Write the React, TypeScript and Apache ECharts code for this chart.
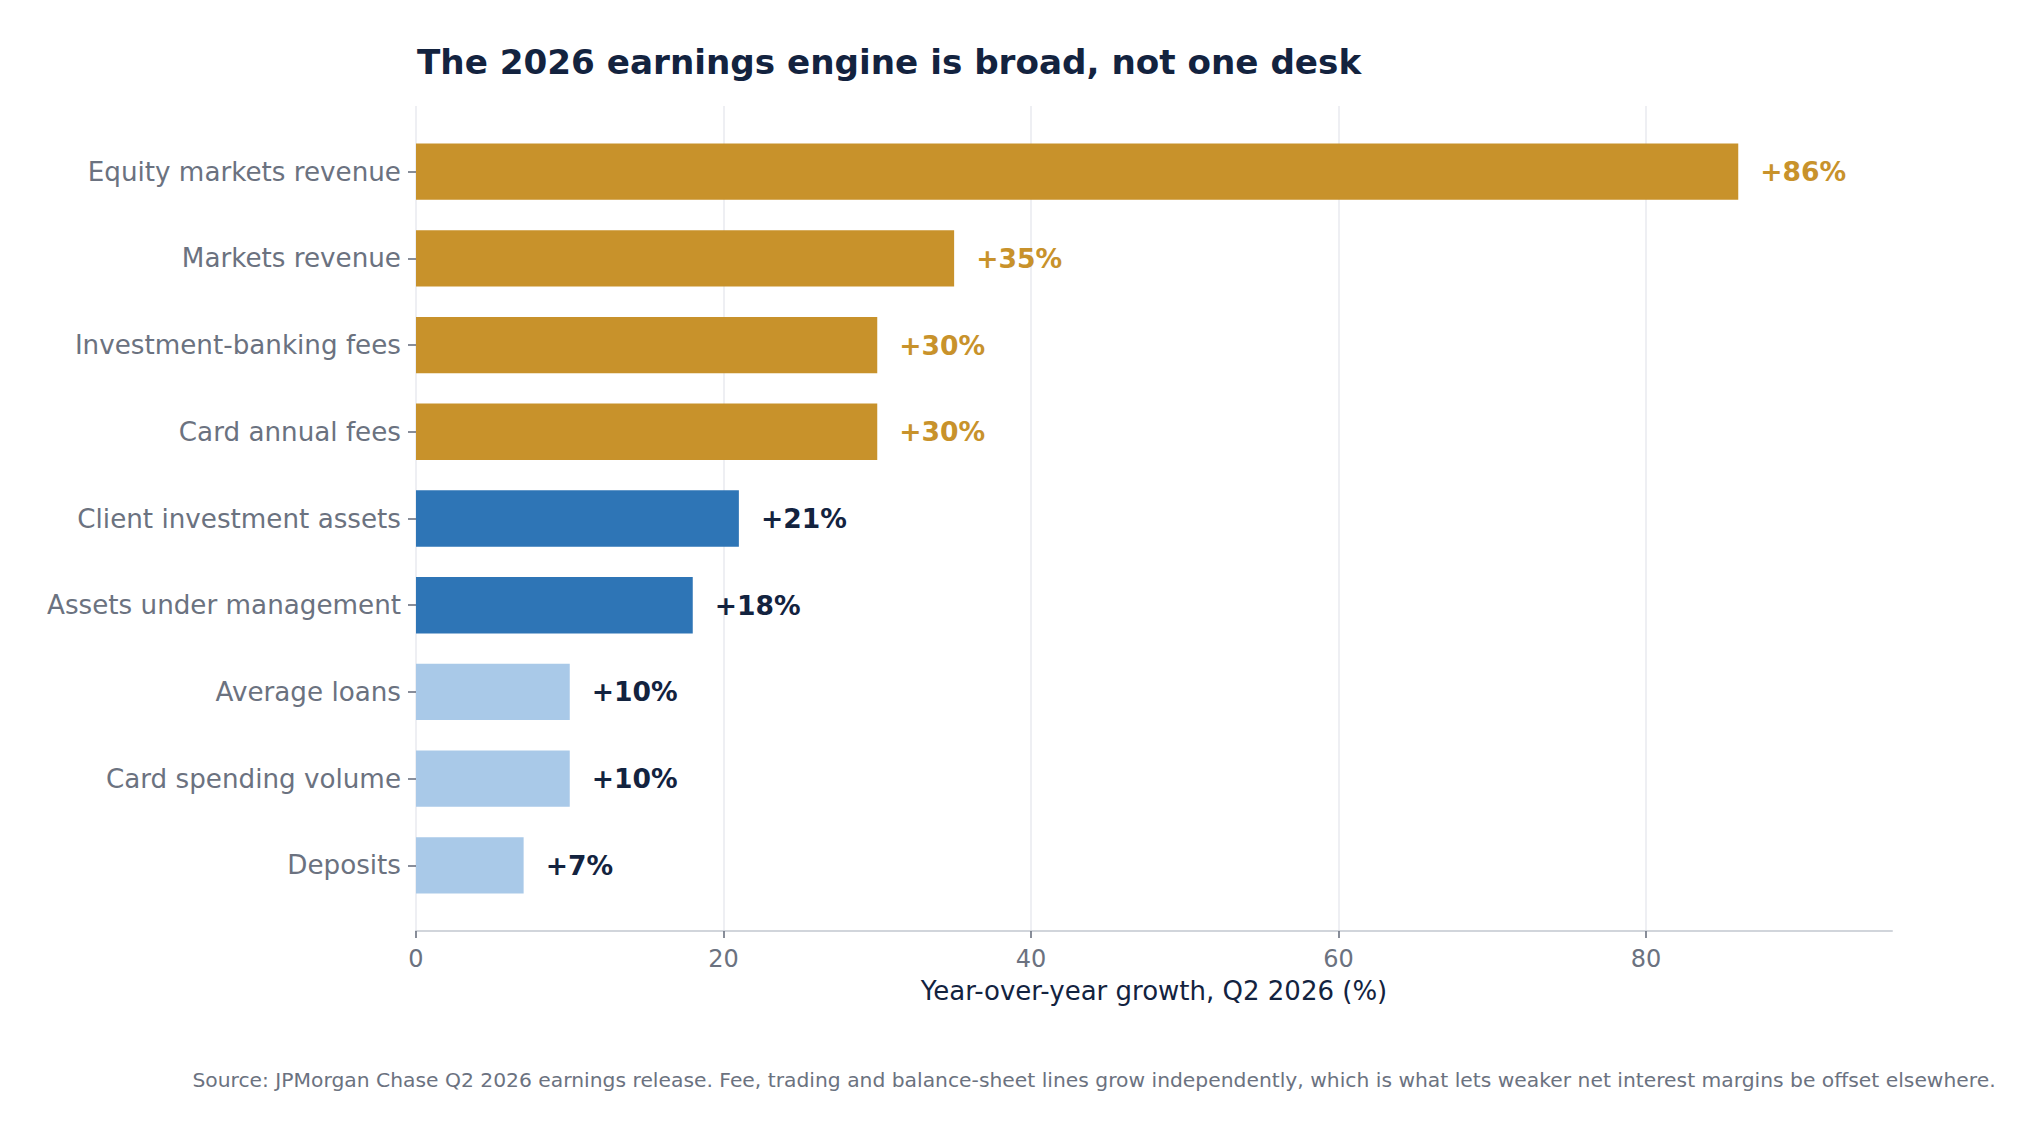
import React, { useEffect, useRef } from "react";
import * as echarts from "echarts";

// ---- data ----
const categories = [
  "Equity markets revenue",
  "Markets revenue",
  "Investment-banking fees",
  "Card annual fees",
  "Client investment assets",
  "Assets under management",
  "Average loans",
  "Card spending volume",
  "Deposits",
];
const growthPct = [86, 35, 30, 30, 21, 18, 10, 10, 7];
const groupOf = [
  "fees",
  "fees",
  "fees",
  "fees",
  "wealth",
  "wealth",
  "balance",
  "balance",
  "balance",
];
const xTickStep = 20;
const xTickMax = 80;
const xAxisMax = 96;

const TITLE = "The 2026 earnings engine is broad, not one desk";
const X_TITLE = "Year-over-year growth, Q2 2026 (%)";
const SOURCE =
  "Source: JPMorgan Chase Q2 2026 earnings release. Fee, trading and balance-sheet lines grow independently, which is what lets weaker net interest margins be offset elsewhere.";

// ---- styles ----
const FONT = "DejaVu Sans";
const NAVY = "#13233F";
const GRAY = "#6B7280";
const barColor: Record<string, string> = {
  fees: "#C8922B",
  wealth: "#2E75B6",
  balance: "#A9C9E8",
};
const labelColor: Record<string, string> = {
  fees: "#C8922B",
  wealth: NAVY,
  balance: NAVY,
};

const W = 2041;
const H = 1138;
const PLOT_LEFT = 416;
const PLOT_W = 1476;
const PLOT_TOP = 106;
const PLOT_H = 825;
// category spacing: 9 bars of height .65 plus 5% margins
const SPAN = categories.length - 1 + 0.65;
const UNIT = PLOT_H / (SPAN * 1.1);
const BAR_TOP = PLOT_TOP + (0.325 + SPAN * 0.05) * UNIT - UNIT / 2;

export default function App() {
  const ref = useRef<HTMLDivElement>(null);
  useEffect(() => {
    document.body.style.margin = "0";
    document.body.style.overflow = "hidden";
    if (!ref.current) return;
    const chart = echarts.init(ref.current, null, { renderer: "svg" });
    const gridA = {
      left: PLOT_LEFT,
      top: PLOT_TOP,
      width: (PLOT_W * xTickMax) / xAxisMax,
      height: PLOT_H,
    };
    const gridB = { left: PLOT_LEFT, top: PLOT_TOP, width: PLOT_W, height: PLOT_H };
    const gridC = {
      left: PLOT_LEFT,
      top: BAR_TOP,
      width: PLOT_W,
      height: UNIT * categories.length,
    };
    chart.setOption({
      animation: false,
      backgroundColor: "#FFFFFF",
      textStyle: { fontFamily: FONT },
      grid: [gridA, gridB, gridC],
      xAxis: [
        {
          gridIndex: 0,
          type: "value",
          min: 0,
          max: xTickMax,
          interval: xTickStep,
          axisLine: { show: false },
          axisTick: {
            show: true,
            length: 7,
            lineStyle: { color: GRAY, width: 1.6 },
          },
          splitLine: { show: true, lineStyle: { color: "#E8EAEF", width: 1.5 } },
          axisLabel: {
            show: true,
            margin: 16,
            fontFamily: FONT,
            fontSize: 24,
            color: GRAY,
          },
        },
        {
          gridIndex: 1,
          type: "value",
          min: 0,
          max: xAxisMax,
          axisLine: { show: true, lineStyle: { color: "#D1D5DB", width: 2 } },
          axisTick: { show: false },
          axisLabel: { show: false },
          splitLine: { show: false },
        },
        {
          gridIndex: 2,
          type: "value",
          min: 0,
          max: xAxisMax,
          show: false,
        },
      ],
      yAxis: [
        { gridIndex: 0, type: "value", show: false, min: 0, max: 1 },
        { gridIndex: 1, type: "value", show: false, min: 0, max: 1 },
        {
          gridIndex: 2,
          type: "category",
          inverse: true,
          data: categories,
          axisLine: { show: false },
          axisTick: {
            show: true,
            alignWithLabel: true,
            length: 8,
            lineStyle: { color: GRAY, width: 1.6 },
          },
          axisLabel: {
            margin: 15,
            fontFamily: FONT,
            fontSize: 26.2,
            color: GRAY,
          },
          splitLine: { show: false },
        },
      ],
      series: [
        {
          type: "bar",
          xAxisIndex: 2,
          yAxisIndex: 2,
          barWidth: 0.65 * UNIT,
          z: 3,
          data: growthPct.map((v, i) => ({
            value: v,
            itemStyle: { color: barColor[groupOf[i]] },
            label: {
              show: true,
              position: "right",
              distance: 22,
              formatter: () => `+${v}%`,
              fontFamily: FONT,
              fontSize: 26.6,
              fontWeight: "bold",
              color: labelColor[groupOf[i]],
            },
          })),
        },
      ],
      graphic: [
        {
          type: "text",
          left: 417,
          top: 62 - 17,
          style: {
            text: TITLE,
            fontFamily: FONT,
            fontSize: 34.2,
            fontWeight: "bold",
            fill: NAVY,
          },
        },
        {
          type: "text",
          x: PLOT_LEFT + PLOT_W / 2,
          y: 991,
          style: {
            text: X_TITLE,
            fontFamily: FONT,
            fontSize: 26,
            fill: NAVY,
            align: "center",
            verticalAlign: "middle",
          },
        },
        {
          type: "text",
          x: 1094,
          y: 1080,
          style: {
            text: SOURCE,
            fontFamily: FONT,
            fontSize: 20.3,
            fill: GRAY,
            align: "center",
            verticalAlign: "middle",
          },
        },
      ],
    });
    return () => chart.dispose();
  }, []);
  return <div ref={ref} style={{ width: W, height: H }} />;
}
